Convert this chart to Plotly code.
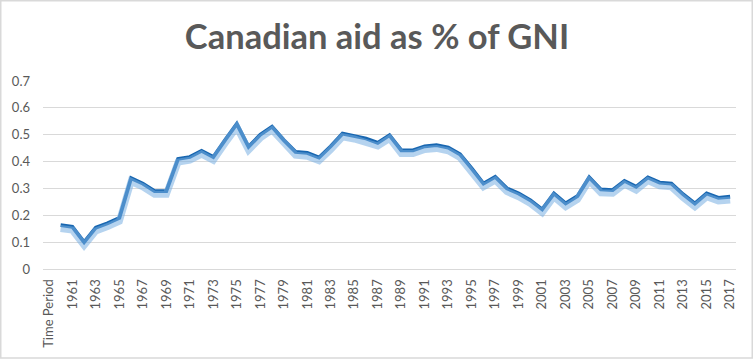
import plotly.graph_objects as go

categories = ["Time Period"] + [str(y) for y in range(1960, 2018)]
aid_pct_gni = [None,
    0.163, 0.157, 0.100, 0.154, 0.170, 0.190, 0.338, 0.318, 0.290, 0.290,  # 1960-1969
    0.410, 0.417, 0.440, 0.417, 0.480, 0.540, 0.455, 0.500, 0.530, 0.480,  # 1970-1979
    0.436, 0.432, 0.415, 0.457, 0.504, 0.496, 0.486, 0.470, 0.498, 0.442,  # 1980-1989
    0.442, 0.457, 0.461, 0.452, 0.427, 0.374, 0.318, 0.343, 0.300, 0.281,  # 1990-1999
    0.256, 0.222, 0.281, 0.244, 0.271, 0.341, 0.296, 0.294, 0.328, 0.306,  # 2000-2009
    0.341, 0.322, 0.318, 0.278, 0.244, 0.281, 0.265, 0.269,                # 2010-2017
]
tick_labels = categories[::2]
y_ticks = [0, 0.1, 0.2, 0.3, 0.4, 0.5, 0.6, 0.7]
y_tick_text = ["0", "0.1", "0.2", "0.3", "0.4", "0.5", "0.6", "0.7"]

W, H = 754, 360
ML, MR, MT, MB = 43, 18, 81, 91

fig = go.Figure()
# soft shadow beneath the line (same data, slightly shifted scale)
fig.add_trace(go.Scatter(
    x=categories, y=aid_pct_gni, mode="lines", yaxis="y2",
    line=dict(color="rgba(120,175,225,0.55)", width=7),
    hoverinfo="skip", showlegend=False,
))
fig.add_trace(go.Scatter(
    x=categories, y=aid_pct_gni, mode="lines",
    line=dict(color="#1866B0", width=3.8),
    showlegend=False, name="Canadian aid as % of GNI",
))

fig.update_layout(
    width=W, height=H,
    margin=dict(l=ML, r=MR, t=MT, b=MB, autoexpand=False),
    paper_bgcolor="white", plot_bgcolor="white",
    font=dict(family="Lato, Open Sans, sans-serif", color="#595959"),
    title=dict(text="<b>Canadian aid as % of GNI</b>", x=0.5, xanchor="center",
               y=1 - 37 / H, yanchor="middle",
               font=dict(size=34.5, color="#595959", family="Lato, Open Sans, sans-serif")),
    xaxis=dict(
        type="category", categoryorder="array", categoryarray=categories,
        range=[-0.5, len(categories) - 0.5],
        tickmode="array", tickvals=tick_labels, ticktext=tick_labels,
        tickangle=-90, tickfont=dict(size=13, color="#595959"),
        showgrid=False, showline=True, linecolor="#d9d9d9", linewidth=1.2,
        ticks="", zeroline=False, automargin=False, ticklabelstandoff=4,
    ),
    yaxis=dict(
        range=[0, 0.7], tickvals=y_ticks, ticktext=y_tick_text,
        tickfont=dict(size=13, color="#595959"),
        showgrid=True, gridcolor="#d9d9d9", gridwidth=1.2,
        zeroline=False, showline=False, ticks="", ticklabelstandoff=12,
        automargin=False,
    ),
    yaxis2=dict(
        range=[0.012, 0.712], overlaying="y", visible=False,
    ),
)

# outer chart border
pw, ph = W - ML - MR, H - MT - MB
fig.add_shape(type="rect", xref="paper", yref="paper",
              x0=(0.75 - ML) / pw, x1=(W - 1.75 - ML) / pw,
              y0=-(MB - 2.0) / ph, y1=1 + (MT - 0.75) / ph,
              line=dict(color="#d9d9d9", width=1.5), layer="below")

fig.write_html("out.html", config={"displayModeBar": False},
               post_script="document.body.style.margin='0';document.body.style.overflow='hidden';")
